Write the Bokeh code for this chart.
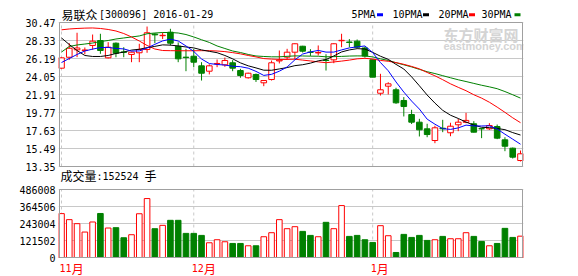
from bokeh.plotting import figure
from bokeh.layouts import column
from bokeh.models import FixedTicker, ColumnDataSource, Range1d, PrintfTickFormatter
from bokeh.embed import file_html
from bokeh.resources import INLINE
from bokeh.core.properties import value

# ---------------- data ----------------
bars = list(range(1, 61))
opens = [25.04, 26.34, 27.22, 27.15, 27.74, 28.33, 26.27, 28.01, 26.97, 26.67,
         26.87, 27.26, 29.10, 28.90, 29.32, 27.65, 26.35, 26.46, 25.32, 24.68,
         25.55, 25.44, 25.68, 24.76, 23.90, 24.29, 23.30, 23.69, 25.90, 26.35,
         26.94, 27.65, 26.95, 26.85, 26.00, 26.03, 28.30, 28.15, 28.25, 27.44,
         26.04, 22.06, 22.90, 22.47, 21.20, 19.53, 18.62, 17.83, 16.44, 17.90,
         17.36, 18.31, 18.60, 18.43, 17.85, 17.83, 18.10, 16.52, 15.53, 14.06]
highs = [26.35, 28.01, 29.25, 27.50, 29.04, 29.13, 28.13, 28.10, 27.53, 27.00,
         27.94, 29.99, 29.20, 29.30, 29.72, 28.10, 27.34, 27.34, 25.75, 25.50,
         26.07, 26.30, 26.00, 24.96, 24.50, 24.40, 23.60, 25.95, 27.14, 27.34,
         28.00, 27.70, 27.30, 27.74, 26.70, 28.00, 29.13, 28.50, 28.45, 27.60,
         26.04, 24.37, 23.37, 22.71, 21.60, 20.09, 19.02, 18.43, 18.20, 18.90,
         18.55, 19.02, 19.73, 18.74, 17.90, 18.50, 18.34, 16.83, 15.60, 15.25]
lows = [24.98, 26.03, 26.35, 26.70, 27.22, 26.75, 26.20, 26.34, 26.34, 25.75,
        25.75, 26.87, 28.00, 28.50, 27.74, 25.75, 24.68, 25.16, 23.57, 24.30,
        25.16, 25.20, 24.68, 23.90, 23.80, 23.40, 22.90, 23.57, 25.60, 26.03,
        26.10, 26.90, 26.50, 26.55, 24.76, 25.63, 27.53, 27.53, 27.40, 26.30,
        23.97, 21.79, 21.91, 20.80, 19.30, 18.40, 16.92, 16.83, 16.12, 17.43,
        16.95, 17.55, 18.50, 17.40, 16.72, 17.70, 16.60, 15.17, 14.30, 13.95]
closes = [26.27, 27.41, 27.44, 27.20, 28.25, 27.14, 27.53, 26.82, 26.92, 26.94,
          27.26, 29.25, 29.00, 28.95, 28.01, 26.15, 26.30, 25.75, 24.44, 25.32,
          25.60, 25.95, 25.04, 24.17, 24.44, 23.69, 23.57, 25.68, 26.00, 26.94,
          27.94, 27.06, 26.92, 26.90, 25.95, 27.94, 28.35, 28.10, 27.53, 26.48,
          23.97, 22.47, 23.18, 20.92, 20.48, 18.62, 17.71, 17.15, 17.95, 17.83,
          18.14, 18.62, 18.83, 17.43, 17.83, 18.22, 16.72, 15.76, 14.46, 14.86]
volumes = [313600, 270500, 241800, 181900, 253800, 314600, 210700, 213100, 141200, 162800,
           312600, 421300, 205900, 229800, 265700, 265700, 172400, 172400, 158000, 105300,
           126900, 112500, 100500, 100500, 83800, 83800, 148400, 177200, 270500, 205900,
           220200, 186700, 158000, 148400, 251400, 205900, 371100, 150800, 158000, 126900,
           107700, 227400, 155600, 35900, 165200, 143600, 158000, 122100, 126900, 150800,
           134100, 134100, 177200, 150800, 114900, 83800, 100500, 208300, 143600, 152524]
ma5 = [25.71, 26.19, 26.67, 27.08, 27.31, 27.49, 27.51, 27.39, 27.33, 27.07,
       27.09, 27.44, 27.87, 28.28, 28.49, 28.27, 27.68, 27.03, 26.13, 25.59,
       25.48, 25.41, 25.27, 25.22, 25.04, 24.66, 24.18, 24.31, 24.68, 25.18,
       26.03, 26.72, 26.97, 27.15, 26.95, 26.95, 27.21, 27.45, 27.57, 27.68,
       26.89, 25.71, 24.73, 23.40, 22.20, 21.13, 20.18, 18.98, 18.38, 17.85,
       17.76, 17.94, 18.27, 18.17, 18.17, 18.19, 17.81, 17.19, 16.60, 16.00]
ma10 = [28.63, 27.85, 27.14, 26.55, 26.43, 26.43, 26.55, 26.79, 26.95, 27.19,
        27.29, 27.48, 27.63, 27.81, 27.78, 27.68, 27.56, 27.45, 27.21, 27.04,
        26.88, 26.55, 26.15, 25.67, 25.32, 25.07, 24.80, 24.79, 24.95, 25.11,
        25.34, 25.45, 25.64, 25.91, 26.07, 26.49, 26.97, 27.21, 27.36, 27.32,
        26.92, 26.46, 26.09, 25.49, 24.94, 24.01, 22.95, 21.85, 20.89, 20.03,
        19.45, 19.06, 18.63, 18.28, 18.01, 17.97, 17.87, 17.73, 17.38, 17.09]
ma20 = [29.60, 29.70, 29.76, 29.80, 29.82, 29.76, 29.64, 29.46, 29.16, 28.75,
        28.27, 27.74, 27.32, 27.14, 27.12, 27.11, 27.11, 27.11, 27.12, 27.12,
        27.08, 27.01, 26.89, 26.74, 26.55, 26.38, 26.18, 26.12, 26.08, 26.08,
        26.11, 26.00, 25.90, 25.79, 25.69, 25.78, 25.88, 26.00, 26.15, 26.21,
        26.13, 25.96, 25.86, 25.70, 25.50, 25.25, 24.96, 24.53, 24.13, 23.67,
        23.18, 22.76, 22.36, 21.88, 21.48, 20.99, 20.41, 19.79, 19.14, 18.56]
ma30 = [26.96, 27.62, 27.80, 27.91, 28.03, 28.21, 28.33, 28.51, 28.63, 28.75,
        28.87, 29.13, 29.22, 29.28, 29.28, 29.22, 29.04, 28.75, 28.42, 28.10,
        27.68, 27.38, 27.08, 26.90, 26.67, 26.49, 26.43, 26.39, 26.39, 26.45,
        26.50, 26.49, 26.47, 26.46, 26.39, 26.41, 26.44, 26.48, 26.50, 26.49,
        26.38, 26.15, 25.96, 25.69, 25.44, 25.19, 24.90, 24.62, 24.40, 24.15,
        23.90, 23.66, 23.45, 23.23, 23.01, 22.82, 22.60, 22.26, 21.88, 21.48]
price_ticks = [13.35, 15.49, 17.63, 19.77, 21.91, 24.05, 26.19, 28.33, 30.47]
vol_ticks = [0, 121502, 243004, 364506, 486008]
month_labels = ["11", "12", "1"]
month_starts = [1, 18, 41]
stock_name = "易联众"
stock_code = "[300096] 2016-01-29"
last_volume_text = ":152524"
ma_names = ["5PMA", "10PMA", "20PMA", "30PMA"]

# ---------------- style / layout ----------------
RED, GREEN, BLUE, BLACK = "#ff0000", "#008000", "#0000ff", "#000000"
MA_COLORS = [BLUE, BLACK, RED, GREEN]
MONO = "DejaVu Sans Mono"
CJK = "Noto Sans CJK SC"
GRID = "#c8c8c8"
FRAME = "#a0a0a0"

W = 578
PH, VH = 184, 92              # figure heights (price / volume)
FL, FR = 58, 523              # plotting frame, canvas px
BOX_L, BOX_R = 59, 522        # drawn chart box
BAR1_PX, DX = 61.0, 459.0 / 59
P_BOX_T, P_BOX_B = 22, 166    # price box top/bottom (canvas px)
V_BOX_T, V_BOX_B = 5, 73      # volume box top/bottom (local px in volume fig)

x_lo = 1 + (FL - BAR1_PX) / DX
x_hi = 1 + (FR - BAR1_PX) / DX
p_lo, p_hi = price_ticks[0], price_ticks[-1]
v_lo, v_hi = vol_ticks[0], vol_ticks[-1]


def bx(px):
    return 1 + (px - BAR1_PX) / DX


def py_price(py):
    return p_hi - (py - P_BOX_T) * (p_hi - p_lo) / (P_BOX_B - P_BOX_T)


def py_vol(py):
    return v_hi - (py - V_BOX_T) * (v_hi - v_lo) / (V_BOX_B - V_BOX_T)


up = [c >= o for o, c in zip(opens, closes)]
colors = [RED if u else GREEN for u in up]
fills = ["#ffffff" if u else GREEN for u in up]

src = ColumnDataSource(dict(
    x=bars, open=opens, close=closes, high=highs, low=lows,
    top=[max(o, c) for o, c in zip(opens, closes)],
    bottom=[min(o, c) for o, c in zip(opens, closes)],
    vol=volumes, color=colors, fill=fills))


def make_fig(height, yr, ticks, fmt):
    f = figure(width=W, height=height, x_range=Range1d(x_lo, x_hi), y_range=yr,
               x_axis_location=None, output_backend="svg", toolbar_location=None,
               min_border_left=FL, min_border_right=W - FR,
               min_border_top=0, min_border_bottom=0)
    f.yaxis.ticker = FixedTicker(ticks=ticks)
    f.yaxis.formatter = PrintfTickFormatter(format=fmt)
    f.yaxis.axis_line_color = None
    f.yaxis.major_tick_line_color = None
    f.yaxis.minor_tick_line_color = None
    f.yaxis.major_tick_out = 0
    f.yaxis.major_tick_in = 0
    f.yaxis.major_label_standoff = 3
    f.yaxis.major_label_text_font = MONO
    f.yaxis.major_label_text_font_size = "10px"
    f.yaxis.major_label_text_color = "#000000"
    f.ygrid.ticker = FixedTicker(ticks=ticks)
    f.ygrid.grid_line_color = GRID
    f.xgrid.visible = False
    f.outline_line_color = None
    f.background_fill_color = "#ffffff"
    f.border_fill_color = "#ffffff"
    return f


def txt(f, px, y, text, font, size, color="#000000", bold=False):
    f.text(x=[bx(px)], y=[y], text=[text], text_font=value(font),
           text_font_size=value(size), text_color=color, text_align="left",
           text_baseline="middle", text_font_style="bold" if bold else "normal")


# ---------------- price figure ----------------
p = make_fig(PH, Range1d(py_price(PH), py_price(0)), price_ticks, "%.2f")

# watermark
txt(p, 443, py_price(33.5), "东方财富网", CJK, "15px", "#d4d4d4", bold=True)
txt(p, 443, py_price(45.5), "eastmoney.com", "Liberation Sans", "11px", "#d4d4d4", bold=True)

# month separators
p.segment(x0=month_starts, y0=[p_lo] * 3, x1=month_starts, y1=[p_hi] * 3,
          line_color="#c8c8c8", line_dash="3 3", line_width=1)

p.segment(x0="x", y0="high", x1="x", y1="low", line_color="color", line_width=1, source=src)
p.vbar(x="x", top="top", bottom="bottom", width=0.72, fill_color="fill",
       line_color="color", line_width=1, source=src)
for ma, c in zip([ma30, ma20, ma10, ma5], [GREEN, RED, BLACK, BLUE]):
    p.line(bars, ma, line_color=c, line_width=1)

# chart box
p.quad(left=[bx(BOX_L)], right=[bx(BOX_R)], bottom=[p_lo], top=[p_hi],
       fill_color=None, line_color=FRAME, line_width=1)

# title
txt(p, 61, py_price(13.8), stock_name, CJK, "12px")
txt(p, 98.5, py_price(14), stock_code, MONO, "10px")
# legend
leg_text_px = [351, 392, 438, 481]
leg_mark_px = [379.5, 425.5, 471.5, 517]
for name, c, tx, mx in zip(ma_names, MA_COLORS, leg_text_px, leg_mark_px):
    txt(p, tx, py_price(14), name, MONO, "10px")
    p.rect(x=[bx(mx)], y=[py_price(14.3)], width=6, height=3,
           width_units="screen", height_units="screen", fill_color=c, line_color=None)
# volume caption
txt(p, 60, py_price(175.3), "成交量", CJK, "12px")
txt(p, 96, py_price(175.8), last_volume_text, MONO, "10px")
txt(p, 144, py_price(175.3), "手", CJK, "12px")

# ---------------- volume figure ----------------
v = make_fig(VH, Range1d(py_vol(VH), py_vol(0)), vol_ticks, "%d")
v.x_range = p.x_range
v.segment(x0=month_starts, y0=[v_lo] * 3, x1=month_starts, y1=[v_hi] * 3,
          line_color="#c8c8c8", line_dash="3 3", line_width=1)
v.vbar(x="x", top="vol", bottom=0, width=0.72, fill_color="fill",
       line_color="color", line_width=1, source=src)
v.quad(left=[bx(BOX_L)], right=[bx(BOX_R)], bottom=[v_lo], top=[v_hi],
       fill_color=None, line_color=FRAME, line_width=1)

for lbl, s in zip(month_labels, month_starts):
    px0 = BAR1_PX + (s - 1) * DX - 2
    txt(v, px0, py_vol(83.7), lbl, MONO, "10px", RED)
    txt(v, px0 + 6.1 * len(lbl), py_vol(83.5), "月", CJK, "12px", RED)

layout = column(p, v, spacing=0)
open("out.html", "w").write(file_html(layout, INLINE))
